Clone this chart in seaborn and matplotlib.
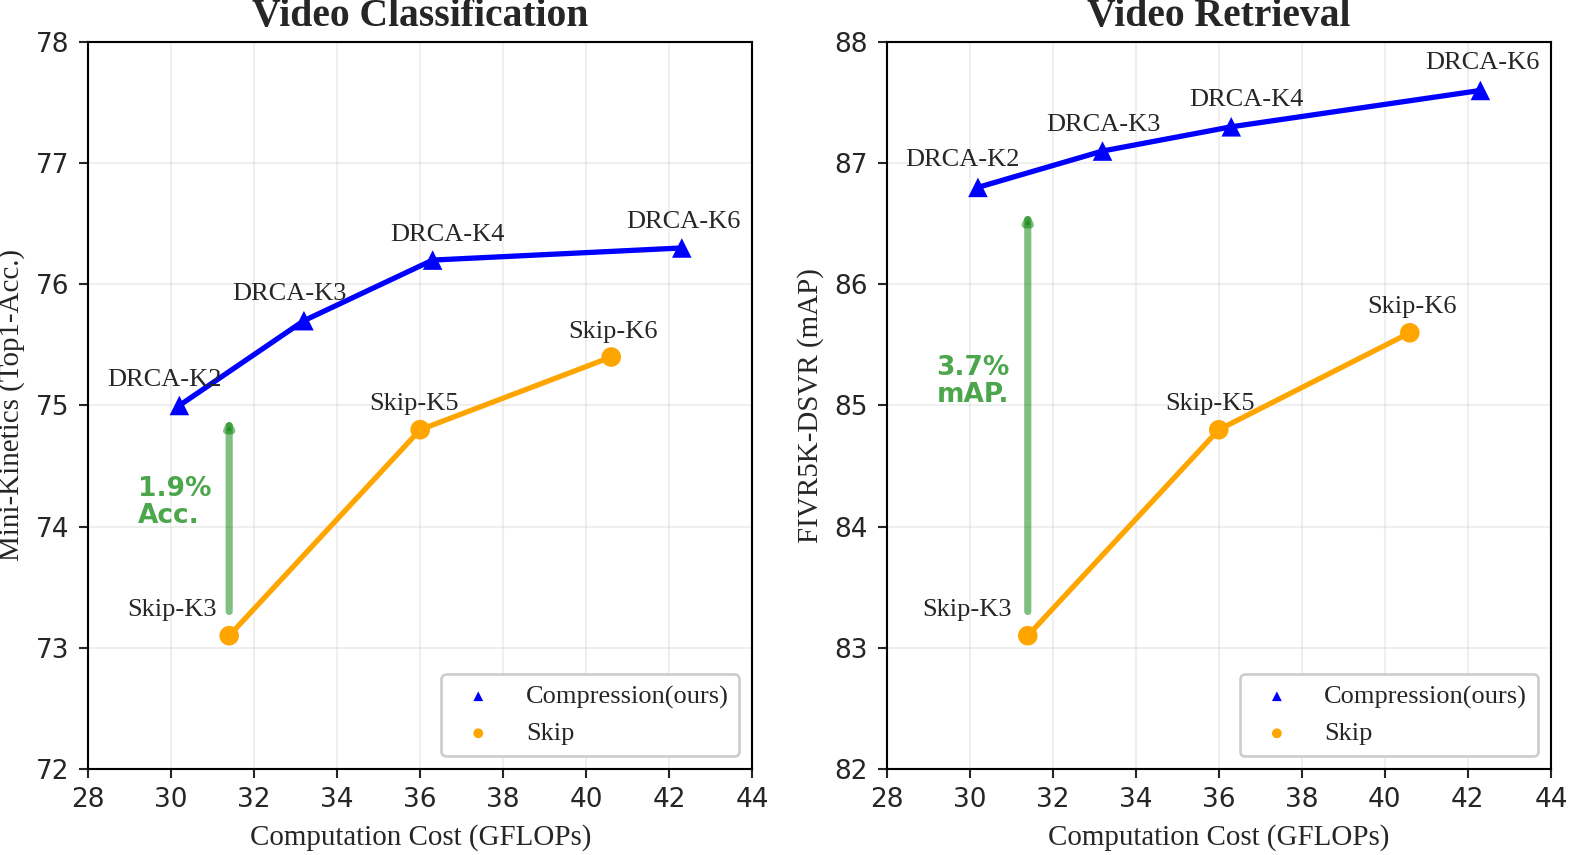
import numpy as np
import pandas as pd
import seaborn as sns
import matplotlib.pyplot as plt

# data
drca_names = ["DRCA-K2", "DRCA-K3", "DRCA-K4", "DRCA-K6"]
drca_gflops = [30.2, 33.2, 36.3, 42.3]
skip_names = ["Skip-K3", "Skip-K5", "Skip-K6"]
skip_gflops = [31.4, 36.0, 40.6]

cls_drca = [75.0, 75.7, 76.2, 76.3]
cls_skip = [73.1, 74.8, 75.4]
ret_drca = [86.8, 87.1, 87.3, 87.6]
ret_skip = [83.1, 84.8, 85.6]

cls_gain = "1.9%\nAcc."
ret_gain = "3.7%\nmAP."

# label offsets in pixels (dx, dy)
cls_drca_off = [(-15, 25), (-15, 27), (15, 25), (2, 26)]
cls_skip_off = [(-57, 26), (-6, 26), (2, 25)]
ret_drca_off = [(-15, 27), (1, 26), (15, 27), (2, 27)]
ret_skip_off = [(-61, 26), (-9, 26), (2, 26)]

DPI = 190
px = 72 / DPI
serif = "Liberation Serif"

sns.set_style("ticks")
plt.rcParams["font.family"] = ["DejaVu Sans"]
plt.rcParams["xtick.labelsize"] = 10
plt.rcParams["ytick.labelsize"] = 10
plt.rcParams["xtick.major.size"] = 3.5
plt.rcParams["ytick.major.size"] = 3.5
plt.rcParams["axes.linewidth"] = 0.8

fig, axes = plt.subplots(1, 2, figsize=(1577 / DPI, 855 / DPI), dpi=DPI)
fig.subplots_adjust(left=0.0558, right=0.9835, bottom=0.1006, top=0.9509, wspace=0.202)

panels = [
    (axes[0], "Video Classification", "Mini-Kinetics (Top1-Acc.)", cls_drca, cls_skip,
     (72, 78), cls_drca_off, cls_skip_off, cls_gain, (73.3, 74.9), 74.2),
    (axes[1], "Video Retrieval", "FIVR5K-DSVR (mAP)", ret_drca, ret_skip,
     (82, 88), ret_drca_off, ret_skip_off, ret_gain, (83.3, 86.6), 85.2),
]

for ax, title, ylabel, drca, skip, ylim, doff, soff, gain, arr, gy in panels:
    d = pd.DataFrame({"x": drca_gflops, "y": drca})
    s = pd.DataFrame({"x": skip_gflops, "y": skip})
    sns.lineplot(data=d, x="x", y="y", color="blue", lw=2, ax=ax, zorder=2)
    sns.lineplot(data=s, x="x", y="y", color="orange", lw=2, ax=ax, zorder=2)
    sns.scatterplot(data=d, x="x", y="y", marker="^", color="blue", s=55,
                    edgecolor="none", label="Compression(ours)", ax=ax, zorder=3)
    sns.scatterplot(data=s, x="x", y="y", marker="o", color="orange", s=55,
                    edgecolor="none", label="Skip", ax=ax, zorder=3)

    for name, xv, yv, (dx, dy) in zip(drca_names, drca_gflops, drca, doff):
        ax.annotate(name, (xv, yv), xytext=(dx * px, dy * px), textcoords="offset points",
                    ha="center", va="center", fontsize=10, family=serif)
    for name, xv, yv, (dx, dy) in zip(skip_names, skip_gflops, skip, soff):
        ax.annotate(name, (xv, yv), xytext=(dx * px, dy * px), textcoords="offset points",
                    ha="center", va="center", fontsize=10, family=serif)

    ax.annotate("", xy=(skip_gflops[0], arr[1]), xytext=(skip_gflops[0], arr[0]),
                arrowprops=dict(arrowstyle="-|>", color="green", alpha=0.5, lw=2.7,
                                mutation_scale=5, shrinkA=0, shrinkB=0))
    ax.text(29.2, gy, gain, color="green", alpha=0.7, fontsize=10, fontweight="bold",
            ha="left", va="center", linespacing=1.05)

    ax.set_xlim(28, 44)
    ax.set_ylim(*ylim)
    ax.set_xticks(np.arange(28, 45, 2))
    ax.set_yticks(np.arange(ylim[0], ylim[1] + 1, 1))
    ax.grid(True, alpha=0.3)
    for sp in ax.spines.values():
        sp.set_visible(True)
        sp.set_color("black")
    ax.set_title(title, fontsize=15, fontweight="bold", family=serif)
    ax.set_xlabel("Computation Cost (GFLOPs)", fontsize=11, family=serif)
    ax.set_ylabel(ylabel, fontsize=11, family=serif)
    ax.legend(loc="lower right", prop={"family": serif, "size": 10}, markerscale=0.5,
              frameon=True, edgecolor="#cccccc", framealpha=1)

fig.savefig("out.png", dpi=DPI)
